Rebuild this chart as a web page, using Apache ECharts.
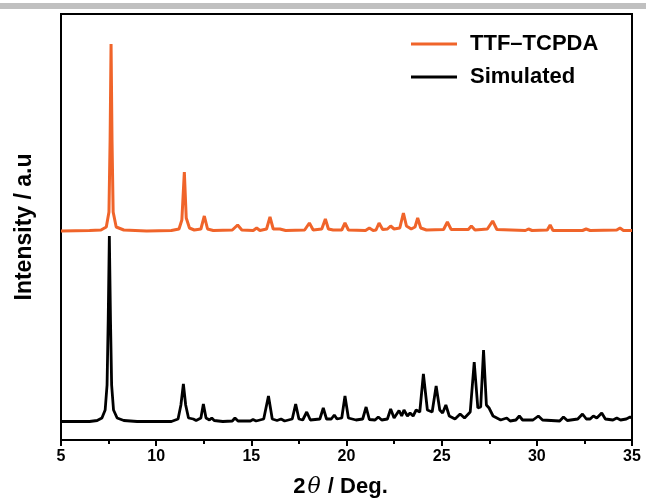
<!DOCTYPE html>
<html>
<head>
<meta charset="utf-8">
<script src="https://cdn.jsdelivr.net/npm/echarts@6/dist/echarts.min.js"></script>
<style>
html,body{margin:0;padding:0;background:#fff;}
#chart{width:646px;height:501px;}
</style>
</head>
<body>
<div id="chart"></div>
<script>
// 2θ (deg) and intensity (a.u.) pairs
const seriesNames = ['TTF–TCPDA', 'Simulated'];
const xTicks = [5, 10, 15, 20, 25, 30, 35];

const ttfTcpda = [
[5.0,209],[6.5,209.5],[7.1,210],[7.38,213],[7.52,228],[7.58,300],[7.63,396],[7.68,300],[7.74,228],[7.9,213],[8.3,210],
[9.5,209],[10.8,209.5],[11.2,211],[11.35,220],[11.48,268],[11.58,222],[11.75,212],[12.0,210],[12.35,211],[12.53,224],[12.7,211],
[13.0,209.5],[14.0,210],[14.28,215],[14.5,210],[15.1,209.5],[15.28,212],[15.45,209.5],[15.8,211],[15.98,223],[16.15,211],[16.5,211],
[16.8,209.5],[17.8,210],[18.05,217],[18.25,210],[18.7,211],[18.89,221],[19.05,211],[19.3,210],[19.75,210],[19.92,217],[20.1,210],
[21.0,209.5],[21.2,212],[21.4,209.5],[21.55,210],[21.71,217],[21.9,210.5],[22.15,211],[22.32,214],[22.5,211],[22.8,212],[22.99,227],
[23.15,214],[23.4,211],[23.6,213],[23.74,222],[23.9,212],[24.2,210],[25.1,210.5],[25.3,218],[25.5,210.5],[26.4,210.5],[26.56,214],
[26.75,210],[27.4,211],[27.68,219],[27.9,210.5],[29.4,209.5],[29.56,211],[29.75,209.5],[30.55,210],[30.7,215],[30.85,209.5],
[32.4,209.5],[32.59,211],[32.8,209.5],[34.2,210],[34.37,212],[34.55,209.5],[35.0,209.5]
];

const simulated = [
[5.0,18.5],[6.5,18.5],[6.9,19.5],[7.15,22],[7.32,30],[7.42,55],[7.48,120],[7.54,204],[7.6,120],[7.66,55],[7.76,30],[7.95,22],[8.3,19.5],
[9.0,18.5],[10.8,18.5],[11.15,21],[11.3,35],[11.43,56],[11.55,35],[11.7,22],[11.95,21],[12.1,19.5],[12.35,22],[12.48,36],[12.62,22],
[12.8,20],[12.92,22],[13.05,19.5],[13.5,18.5],[14.0,19],[14.14,22],[14.3,19],[14.95,19],[15.09,20.5],[15.25,19],[15.65,21],[15.9,44],
[16.1,21],[16.35,19.5],[16.56,21],[16.75,19],[17.15,21],[17.33,36],[17.5,21],[17.7,20],[17.91,28],[18.1,20],[18.6,21],[18.78,32],
[18.95,21],[19.2,21],[19.36,25],[19.5,21],[19.75,22],[19.92,44],[20.1,22],[20.5,20],[20.85,21],[21.03,33],[21.2,20.5],[21.5,20],
[21.67,23],[21.85,20],[22.15,21],[22.32,31],[22.5,22],[22.76,29.5],[22.9,24],[23.02,30],[23.2,24],[23.34,27],[23.5,24],[23.66,30],
[23.85,28],[24.04,66],[24.25,30],[24.5,28],[24.71,54],[24.9,30],[25.05,27],[25.22,35],[25.4,24],[25.7,21],[25.97,26],[26.2,22],
[26.5,28],[26.71,78],[26.9,32],[27.05,33],[27.2,90],[27.35,35],[27.49,32],[27.7,24],[28.1,20],[28.42,22],[28.6,19],[28.9,20],
[29.08,24],[29.25,20],[29.8,20],[30.08,24],[30.3,20],[31.2,19],[31.4,23],[31.6,19.5],[32.15,21],[32.4,26],[32.6,21],[32.8,21],
[32.97,24],[33.15,22],[33.41,27],[33.6,21],[34.0,20],[34.2,22],[34.4,20],[34.7,21],[34.9,23],[35.0,22]
];

const chart = echarts.init(document.getElementById('chart'), null, {renderer: 'canvas'});
const font = 'Liberation Sans, Arial, sans-serif';
const xMin = xTicks[0], xMax = xTicks[xTicks.length - 1];
chart.setOption({
  animation: false,
  backgroundColor: '#fff',
  graphic: [{
    type: 'rect', left: 0, top: 3, shape: {width: 646, height: 6},
    style: {fill: '#c0c0c0'}, silent: true
  }],
  grid: {left: 61, right: 14, top: 14, bottom: 61, containLabel: false, outerBoundsMode: 'none',
         show: true, borderColor: '#000', borderWidth: 2, backgroundColor: 'transparent'},
  legend: {
    orient: 'vertical', left: 411, top: 33, padding: 0, itemWidth: 46, itemHeight: 3, itemGap: 11,
    icon: 'rect',
    textStyle: {fontFamily: font, fontWeight: 'bold', fontSize: 22, color: '#000', padding: [0,0,0,8]},
    data: seriesNames
  },
  xAxis: [{
    type: 'value', min: xMin, max: xMax, interval: 5,
    axisLine: {show: true, onZero: false, lineStyle: {color: '#000', width: 2}},
    axisTick: {show: true, inside: false, length: 6, lineStyle: {color: '#000', width: 2}},
    axisLabel: {fontFamily: font, fontWeight: 'bold', fontSize: 16, color: '#000', margin: 9},
    splitLine: {show: false},
    name: '{b|2}{i|θ}{b2| / Deg.}', nameLocation: 'middle', nameGap: 36,
    nameTextStyle: {rich: {
      b: {fontFamily: font, fontWeight: 'bold', fontSize: 22, color: '#000'},
      b2: {fontFamily: font, fontWeight: 'bold', fontSize: 22, color: '#000', padding: [0,12,0,0]},
      i: {fontFamily: 'DejaVu Serif, serif', fontStyle: 'italic', fontSize: 22, color: '#000', padding: [0,1,0,2]}
    }}
  }, {
    type: 'value', min: xMin, max: xMax, interval: 2.5, position: 'bottom',
    axisLine: {show: false, onZero: false},
    axisTick: {show: true, inside: false, length: 4, lineStyle: {color: '#000', width: 2}},
    axisLabel: {show: false}, splitLine: {show: false}
  }],
  yAxis: {
    type: 'value', min: 0, max: 426,
    axisLine: {show: true, lineStyle: {color: '#000', width: 2}},
    axisTick: {show: false}, axisLabel: {show: false}, splitLine: {show: false},
    name: 'Intensity / a.u', nameLocation: 'middle', nameGap: 25,
    nameTextStyle: {fontFamily: font, fontWeight: 'bold', fontSize: 23, color: '#000'}
  },
  series: [
    {name: seriesNames[0], type: 'line', data: ttfTcpda, showSymbol: false, symbol: 'none',
     lineStyle: {color: '#F0642A', width: 3}, itemStyle: {color: '#F0642A'}, smooth: false},
    {name: seriesNames[1], type: 'line', data: simulated, showSymbol: false, symbol: 'none',
     lineStyle: {color: '#000', width: 2.8}, itemStyle: {color: '#000'}, smooth: false}
  ]
});
</script>
</body>
</html>
